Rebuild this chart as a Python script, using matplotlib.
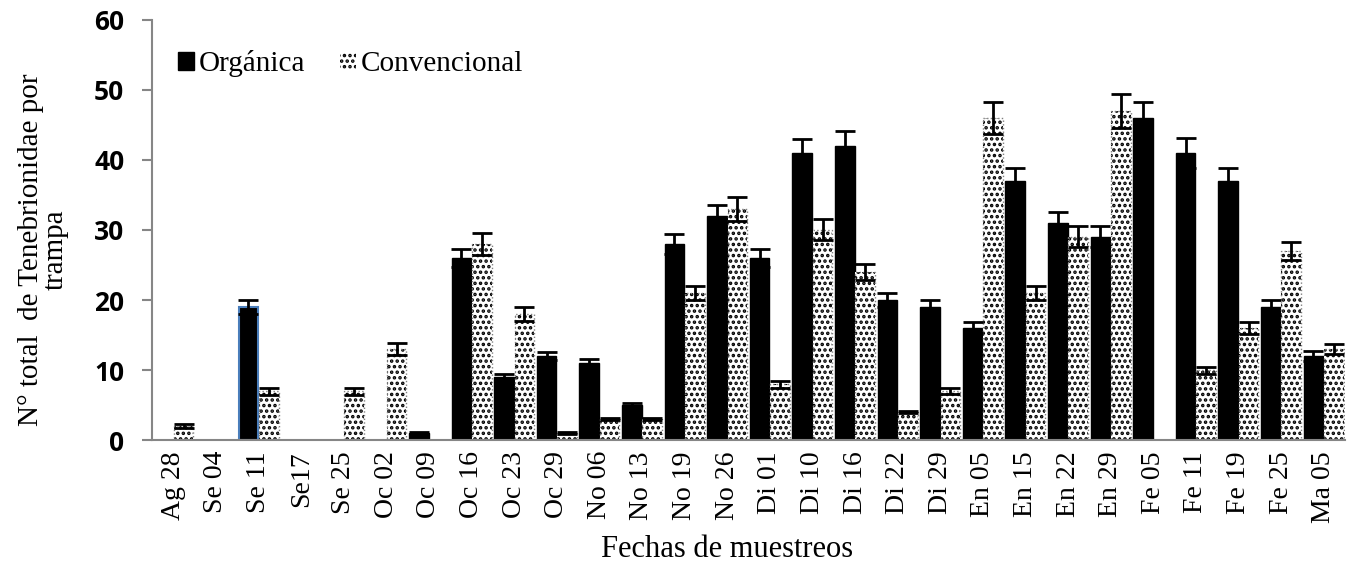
import numpy as np
import matplotlib.pyplot as plt

plt.rcParams['hatch.linewidth'] = 1.7

# Fechas de muestreo
fechas = ['Ag 28', 'Se 04', 'Se 11', 'Se17', 'Se 25', 'Oc 02', 'Oc 09', 'Oc 16',
          'Oc 23', 'Oc 29', 'No 06', 'No 13', 'No 19', 'No 26', 'Di 01', 'Di 10',
          'Di 16', 'Di 22', 'Di 29', 'En 05', 'En 15', 'En 22', 'En 29', 'Fe 05',
          'Fe 11', 'Fe 19', 'Fe 25', 'Ma 05']

organica = [0, 0, 19, 0, 0, 0, 1, 26, 9, 12, 11, 5, 28, 32, 26, 41, 42, 20, 19,
            16, 37, 31, 29, 46, 41, 37, 19, 12]
organica_err = [0, 0, 1.0, 0, 0, 0, 0.2, 1.3, 0.5, 0.6, 0.6, 0.3, 1.4, 1.6, 1.3,
                2.0, 2.1, 1.0, 1.0, 0.8, 1.8, 1.6, 1.5, 2.3, 2.1, 1.8, 1.0, 0.7]

convencional = [2, 0, 7, 0, 7, 13, 0, 28, 18, 1, 3, 3, 21, 33, 8, 30, 24, 4, 7,
                46, 21, 29, 47, 0, 10, 16, 27, 13]
convencional_err = [0.3, 0, 0.5, 0, 0.5, 0.8, 0, 1.5, 1.0, 0.2, 0.2, 0.2, 1.0, 1.7,
                    0.5, 1.5, 1.2, 0.2, 0.4, 2.3, 1.0, 1.5, 2.4, 0, 0.5, 0.8, 1.3, 0.7]

x = np.arange(len(fechas))
w = 0.46

fig = plt.figure(figsize=(13.49, 5.71), dpi=100)
ax = fig.add_axes([0.1127, 0.2294, 0.8843, 0.7356])

err_kw = dict(ecolor='black', elinewidth=2, capsize=7, capthick=2)

b1 = ax.bar(x - 0.24, organica, w, color='black', edgecolor='black',
            yerr=organica_err, error_kw=err_kw, label='Orgánica')
b1[2].set_edgecolor('#4a7ebb')
b1[2].set_linewidth(1.5)

b2 = ax.bar(x + 0.24, convencional, w, color='white', edgecolor='black',
            linewidth=0, hatch='...', label='Convencional')
# dotted grey outline of the conventional bars
ax.bar(x + 0.24, convencional, w, fill=False, edgecolor='#808080',
       linewidth=1, linestyle=':')
ax.errorbar(x + 0.24, convencional, yerr=convencional_err, fmt='none', **err_kw)

ax.set_ylim(0, 60)
ax.set_xlim(-0.5, len(fechas) - 0.5)
ax.set_yticks(range(0, 61, 10))
ax.set_xticks(x)
ax.set_xticklabels(fechas, rotation=90, family='Liberation Serif', fontsize=20)
ax.set_yticklabels([str(v) for v in range(0, 61, 10)], family='Open Sans',
                   fontweight='bold', fontsize=19)

ax.tick_params(axis='x', length=0, pad=8)
ax.tick_params(axis='y', length=7, width=1.5, color='#868686', pad=13)
for s in ['top', 'right']:
    ax.spines[s].set_visible(False)
for s in ['left', 'bottom']:
    ax.spines[s].set_color('#868686')
    ax.spines[s].set_linewidth(1.5)

ax.set_xlabel('Fechas de muestreos', family='Liberation Serif', fontsize=22)
ax.xaxis.set_label_coords(0.482, -0.225)
ax.set_ylabel('N° total  de Tenebrionidae por\ntrampa', family='Liberation Serif',
              fontsize=21, linespacing=0.95)
ax.yaxis.set_label_coords(-0.07, 0.452)

ax.legend(loc='upper left', bbox_to_anchor=(0.0, 0.99), ncol=2, frameon=False,
          prop={'family': 'Liberation Serif', 'size': 21}, handlelength=0.55,
          handleheight=0.55, handletextpad=0.15, columnspacing=1.2)

fig.savefig('out.png', dpi=100)
